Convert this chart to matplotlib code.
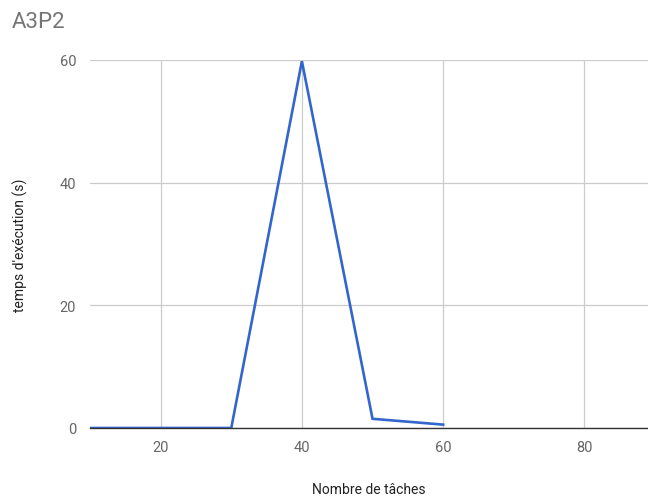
import matplotlib
matplotlib.use("Agg")
import matplotlib.pyplot as plt

tasks = [10, 20, 30, 40, 50, 60]
exec_time = [0, 0, 0, 59.8, 1.5, 0.55]
x_ticks = [20, 40, 60, 80]
y_ticks = [0, 20, 40, 60]

plt.rcParams['font.family'] = ['Roboto', 'DejaVu Sans']

fig = plt.figure(figsize=(6.48, 5.02), dpi=100)
ax = fig.add_axes([90 / 648, 1 - 429 / 502, 1 - 90 / 648, (429 - 61) / 502])

ax.plot(tasks, exec_time, color='#3366cc', linewidth=1.9, solid_joinstyle='miter', zorder=3)

ax.set_xlim(10, 89)
ax.set_ylim(0, 60)
ax.set_xticks(x_ticks)
ax.set_yticks(y_ticks)
ax.grid(True, color='#cccccc', linewidth=0.9)
ax.set_axisbelow(True)
for side in ['top', 'right', 'left']:
    ax.spines[side].set_visible(False)
ax.spines['bottom'].set_color('#333333')
ax.spines['bottom'].set_linewidth(1.0)
ax.spines['bottom'].set_zorder(4)
ax.tick_params(axis='both', length=0, labelsize=10.5, labelcolor='#666666')
ax.tick_params(axis='x', pad=9)
ax.tick_params(axis='y', pad=10)

ax.set_xlabel("Nombre de tâches", fontsize=10, color='#222222', labelpad=20)
ax.set_ylabel("temps d'exécution (s)", fontsize=10, color='#222222', labelpad=23)

fig.text(12 / 648, 1 - 22 / 502, "A3P2", fontsize=16, color='#757575', va='center', ha='left')

fig.savefig("out.png", dpi=100)
